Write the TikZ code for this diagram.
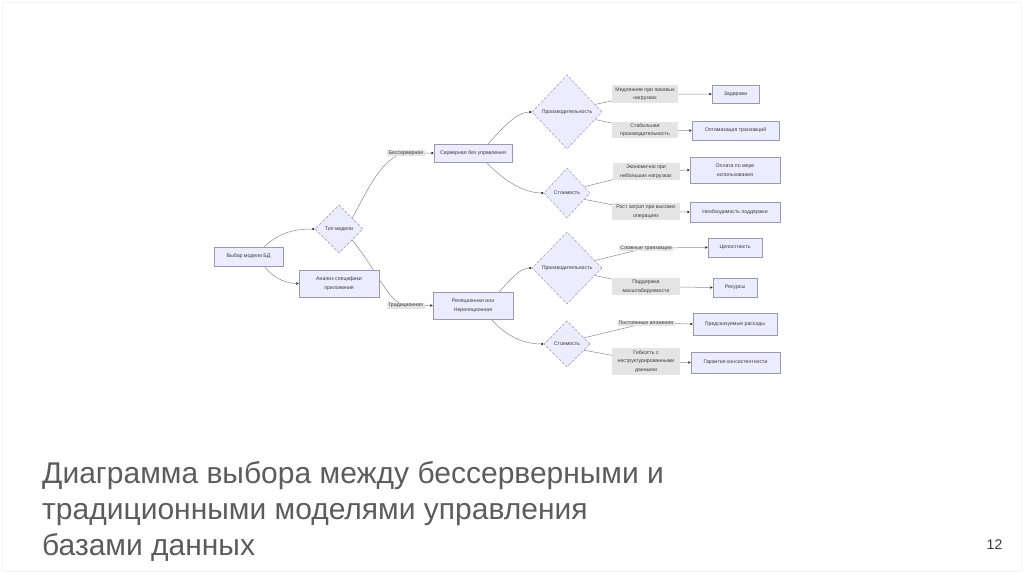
\documentclass[tikz,border=0pt]{standalone}
\usepackage{fontspec}
\setmainfont{Liberation Sans}
\usetikzlibrary{shapes.geometric,arrows.meta,backgrounds,calc}
\definecolor{nodefill}{HTML}{ECECFF}
\definecolor{nodedraw}{HTML}{9A98B4}
\definecolor{diadraw}{HTML}{A8A8B8}
\definecolor{labfill}{HTML}{E4E4E4}
\definecolor{edgecol}{HTML}{8A8A8A}
\definecolor{txtcol}{HTML}{3A3A3A}
\definecolor{titlecol}{HTML}{5C5C5C}
\definecolor{framecol}{HTML}{F3F3F3}
\begin{document}
\begin{tikzpicture}[x=1pt,y=-1pt,
  small/.style={font=\fontsize{5.2}{8.5}\selectfont, text=txtcol},
  boxnode/.style={small, rectangle, draw=nodedraw, line width=0.6pt, fill=nodefill, align=center, inner sep=0pt},
  dianode/.style={small, diamond, draw=diadraw, line width=0.6pt, dash pattern=on 3pt off 1.5pt, fill=nodefill, inner sep=0pt, align=center},
  labnode/.style={small, rectangle, fill=labfill, align=center, inner sep=0pt},
  edge/.style={draw=edgecol, line width=0.5pt},
  arr/.style={edge, -{Stealth[length=2.6pt,width=2.4pt,black]}},
  titletext/.style={font=\fontsize{30}{36}\selectfont, text=titlecol, anchor=base west, inner sep=0pt}
]
\useasboundingbox (0,0) rectangle (1024,574);
\draw[framecol, line width=0.8pt] (2,2) rectangle (1021,571);

% main nodes
\node[boxnode, minimum width=69, minimum height=19] (vb) at (248.5,256.5) {Выбор модели БД};
\node[dianode, minimum width=48, minimum height=48] (tm) at (339,229) {Тип модели};
\node[boxnode, minimum width=80, minimum height=27] (an) at (339,283.5) {Анализ специфики\\приложения};
\node[labnode, minimum width=38, minimum height=6] (bes) at (406,153) {Бессерверная};
\node[labnode, minimum width=38, minimum height=6] (trd) at (405.5,305.5) {Традиционная};
\node[boxnode, minimum width=78, minimum height=18] (srv) at (473,153) {Серверная без управления};
\node[boxnode, minimum width=80, minimum height=27] (rel) at (473,305.5) {Реляционная или\\Нереляционная};

\node[dianode, minimum width=70, minimum height=74] (p1) at (567,112) {Производительность};
\node[dianode, minimum width=46, minimum height=50] (c1) at (567,193) {Стоимость};
\node[dianode, minimum width=70, minimum height=72] (p2) at (567,268) {Производительность};
\node[dianode, minimum width=46, minimum height=46] (c2) at (567,344) {Стоимость};

% edge labels
\node[labnode, minimum width=66, minimum height=18] (l1) at (645,94) {Медленнее при пиковых\\нагрузках};
\node[labnode, minimum width=66, minimum height=16] (l2) at (645,130) {Стабильная\\производительность};
\node[labnode, minimum width=67, minimum height=17] (l3) at (646,171.5) {Экономично при\\небольших нагрузках};
\node[labnode, minimum width=68, minimum height=17] (l4) at (646,211.5) {Рост затрат при высоких\\операциях};
\node[labnode, minimum width=54, minimum height=5] (l5) at (646,248) {Сложные транзакции};
\node[labnode, minimum width=68, minimum height=17] (l6) at (646,286.5) {Поддержка\\масштабируемости};
\node[labnode, minimum width=57, minimum height=5] (l7) at (646,323) {Постоянные вложения};
\node[labnode, minimum width=68, minimum height=27] (l8) at (646,361.5) {Гибкость с\\неструктурированными\\данными};

% targets
\node[boxnode, minimum width=47, minimum height=18] (zad) at (735.5,94) {Задержки};
\node[boxnode, minimum width=87, minimum height=19] (opt) at (735.5,130.5) {Оптимизация транзакций};
\node[boxnode, minimum width=90, minimum height=26] (opl) at (735,170) {Оплата по мере\\использования};
\node[boxnode, minimum width=90, minimum height=20] (neo) at (735,212) {Необходимость поддержки};
\node[boxnode, minimum width=54, minimum height=19] (cel) at (735,247.5) {Целостность};
\node[boxnode, minimum width=44, minimum height=19] (res) at (735,287.5) {Ресурсы};
\node[boxnode, minimum width=84, minimum height=22] (pre) at (735,324) {Предсказуемые расходы};
\node[boxnode, minimum width=89, minimum height=21] (gar) at (735.5,362.5) {Гарантия консистентности};

\begin{scope}[on background layer]
\draw[arr] ($(vb.north east)+(-19,0)$) .. controls (280,232) and (295,229) .. (tm.west);
\draw[arr] ($(vb.south east)+(-19,0)$) .. controls (275,280) and (288,283.5) .. (an.west);
\draw[arr] (tm.40) .. controls (368,190) and (382,156) .. (bes.center) -- (srv.west);
\draw[arr] (tm.-40) .. controls (378,272) and (388,302) .. (trd.center) -- (rel.west);
\draw[arr] ($(srv.north east)+(-24,0)$) .. controls (508,122) and (518,112) .. (p1.west);
\draw[arr] ($(srv.south east)+(-26,0)$) .. controls (505,182) and (525,193) .. (c1.west);
\draw[arr] ($(rel.north east)+(-14,0)$) .. controls (512,278) and (520,268) .. (p2.west);
\draw[arr] ($(rel.south east)+(-22,0)$) .. controls (508,338) and (525,344) .. (c2.west);

\draw[arr] (p1.15) -- (l1.center) -- (zad.west);
\draw[arr] (p1.-15) -- (l2.center) -- (opt.west);
\draw[arr] (c1.20) -- (l3.center) -- (opl.west);
\draw[arr] (c1.-20) -- (l4.center) -- (neo.west);
\draw[arr] (p2.15) -- (l5.center) -- (cel.west);
\draw[arr] (p2.-15) -- (l6.center) -- (res.west);
\draw[arr] (c2.20) -- (l7.center) -- (pre.west);
\draw[arr] (c2.-20) -- (l8.center) -- (gar.west);
\end{scope}

% title
\node[titletext] (t1) at (42,483) {Диаграмма выбора между бессерверными и};
\node[titletext] (t2) at (42,519.5) {традиционными моделями управления};
\node[titletext] (t3) at (42,555) {базами данных};
\node[font=\fontsize{14}{16}\selectfont, text=txtcol, anchor=base, inner sep=0pt] (pg) at (994.5,549) {12};
\end{tikzpicture}
\end{document}
